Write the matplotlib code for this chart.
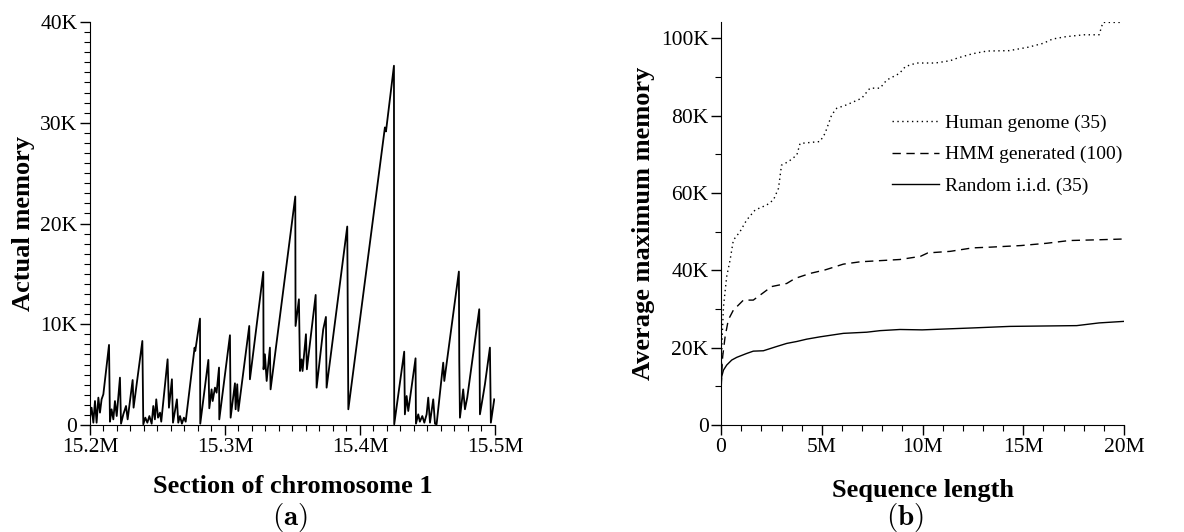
import numpy as np
import matplotlib.pyplot as plt
from matplotlib.ticker import MultipleLocator

plt.rcParams['font.family'] = ['Liberation Serif', 'DejaVu Serif']
plt.rcParams['mathtext.fontset'] = 'cm'

# (a) memory along a section of chromosome 1 (position in Mb, memory in K)
pos_mb = [15.2000, 15.2012, 15.2025, 15.2037, 15.2049, 15.2062, 15.2074, 15.2086, 15.2099,
          15.2141, 15.2148, 15.2160, 15.2173, 15.2185, 15.2198, 15.2222, 15.2230, 15.2247,
          15.2267, 15.2279, 15.2316, 15.2323, 15.2388, 15.2395, 15.2410, 15.2425, 15.2440,
          15.2457, 15.2469, 15.2481, 15.2491, 15.2504, 15.2519, 15.2528, 15.2575, 15.2585,
          15.2607, 15.2615, 15.2644, 15.2654, 15.2667, 15.2681, 15.2696, 15.2709, 15.2775,
          15.2780, 15.2815, 15.2817, 15.2877, 15.2884, 15.2901, 15.2909, 15.2926, 15.2938,
          15.2956, 15.2958, 15.3037, 15.3042, 15.3074, 15.3079, 15.3091, 15.3099, 15.3180,
          15.3185, 15.3284, 15.3286, 15.3296, 15.3309, 15.3333, 15.3338, 15.3521, 15.3523,
          15.3548, 15.3556, 15.3568, 15.3575, 15.3600, 15.3607, 15.3672, 15.3679, 15.3728,
          15.3748, 15.3753, 15.3906, 15.3914, 15.4185, 15.4193, 15.4252, 15.4254, 15.4328,
          15.4333, 15.4346, 15.4358, 15.4370, 15.4412, 15.4415, 15.4432, 15.4444, 15.4462,
          15.4477, 15.4494, 15.4506, 15.4519, 15.4543, 15.4556, 15.4568, 15.4617, 15.4625,
          15.4733, 15.4736, 15.4741, 15.4765, 15.4778, 15.4795, 15.4884, 15.4889, 15.4914,
          15.4926, 15.4963, 15.4970, 15.4995]
mem_k = [0.73, 1.72, 0.23, 2.38, 0.23, 2.72, 1.23, 2.55, 3.05,
         7.95, 0.33, 1.56, 0.56, 2.38, 0.89, 4.70, 0.13, 1.06,
         1.89, 0.56, 4.47, 1.72, 8.34, 0.07, 0.73, 0.23, 0.89,
         0.13, 1.89, 0.56, 2.55, 0.73, 1.23, 0.33, 6.52, 1.72,
         4.54, 0.23, 2.55, 0.23, 0.89, 0.13, 0.73, 0.33, 7.68,
         7.35, 10.56, 0.13, 6.46, 1.66, 3.54, 2.38, 3.71, 3.21,
         5.70, 0.56, 8.91, 0.73, 4.14, 1.56, 4.04, 1.39, 9.83,
         4.54, 15.20, 5.53, 7.02, 4.37, 7.68, 3.54, 22.68, 9.83,
         12.48, 5.36, 6.52, 5.36, 9.01, 5.53, 12.91, 3.71, 9.50,
         10.73, 3.71, 19.70, 1.56, 29.54, 29.14, 35.66, 0.07, 7.28,
         1.06, 2.88, 1.39, 2.55, 6.62, 0.13, 1.06, 0.33, 0.89,
         0.23, 1.06, 2.72, 0.23, 2.55, 0.13, 0.07, 6.19, 4.37,
         15.23, 6.36, 0.73, 3.54, 1.56, 2.72, 11.49, 1.06, 3.05,
         4.04, 7.68, 0.23, 2.55]

# (b) average maximum memory vs sequence length (length in M, memory in K)
human_len = [0.0, 0.02, 0.05, 0.12, 0.28, 0.45, 0.61, 0.94, 1.27, 1.69, 2.27, 2.6, 2.85, 3.0,
             3.34, 3.76, 3.92, 4.91, 5.16, 5.49, 5.74, 6.24, 6.98, 7.39, 7.89, 8.22, 8.85,
             9.15, 9.7, 10.63, 11.37, 11.74, 12.48, 13.2, 14.3, 15.25, 15.99, 16.45, 17.1,
             18.0, 18.76, 18.95, 19.87]
human_mem = [12.0, 15.0, 22.0, 30.6, 38.4, 42.7, 47.8, 50.0, 53.0, 55.6, 56.9, 58.2, 61.2, 67.2,
             68.1, 69.8, 72.8, 73.3, 75.4, 80.2, 81.9, 82.8, 84.5, 87.1, 87.1, 89.2, 90.9,
             92.7, 93.6, 93.6, 94.2, 94.9, 96.0, 96.7, 96.8, 97.7, 98.7, 99.8, 100.4,
             100.9, 100.9, 104.1, 104.1]
hmm_len = [0.0, 0.02, 0.08, 0.2, 0.36, 0.61, 1.11, 1.6, 1.94, 2.51, 3.26, 3.67, 4.42, 5.16,
           6.07, 6.9, 8.88, 9.89, 10.26, 11.37, 12.48, 13.4, 14.88, 16.17, 17.28, 18.76, 20.0]
hmm_mem = [10.0, 12.0, 17.7, 22.8, 27.2, 29.7, 32.3, 32.3, 33.6, 35.8, 36.6, 37.9, 39.2, 40.1,
           41.6, 42.2, 42.8, 43.6, 44.5, 44.9, 45.8, 46.0, 46.4, 47.0, 47.7, 47.9, 48.1]
iid_len = [0.0, 0.01, 0.03, 0.12, 0.28, 0.53, 0.78, 1.27, 1.6, 2.1, 2.76, 3.26, 3.76, 4.25,
           4.91, 6.07, 7.23, 7.89, 8.88, 9.98, 12.48, 14.33, 17.65, 18.76, 20.0]
iid_mem = [0.0, 10.0, 12.5, 14.2, 15.5, 16.8, 17.5, 18.5, 19.1, 19.2, 20.3, 21.1, 21.6, 22.2,
           22.8, 23.7, 24.0, 24.4, 24.7, 24.6, 25.1, 25.5, 25.7, 26.4, 26.8]

fig = plt.figure(figsize=(11.84, 5.32), dpi=100)
ax1 = fig.add_axes([0.076, 0.2011, 0.342, 0.7575])
ax2 = fig.add_axes([0.609, 0.2011, 0.3404, 0.7575])

for ax in (ax1, ax2):
    ax.spines['top'].set_visible(False)
    ax.spines['right'].set_visible(False)
    ax.tick_params(which='major', direction='out', length=7, width=1, labelsize=15.5, pad=2)
    ax.tick_params(which='minor', direction='out', length=4, width=0.8)

# panel (a)
ax1.plot(pos_mb, mem_k, color='black', lw=1.3)
ax1.set_xlim(15.2, 15.5)
ax1.set_ylim(0, 40)
ax1.set_xticks([15.2, 15.3, 15.4, 15.5])
ax1.set_xticklabels(['15.2M', '15.3M', '15.4M', '15.5M'])
ax1.set_yticks([0, 10, 20, 30, 40])
ax1.set_yticklabels(['0', '10K', '20K', '30K', '40K'])
ax1.xaxis.set_minor_locator(MultipleLocator(0.01))
ax1.yaxis.set_minor_locator(MultipleLocator(1))
ax1.set_xlabel('Section of chromosome 1', fontsize=19, fontweight='bold', labelpad=13)
ax1.set_ylabel('Actual memory', fontsize=19, fontweight='bold', labelpad=4)

# panel (b)
ax2.plot(human_len, human_mem, color='black', lw=1.0, ls=(0, (1, 2.5)), label='Human genome (35)')
ax2.plot(hmm_len, hmm_mem, color='black', lw=1.0, ls=(0, (6, 4)), label='HMM generated (100)')
ax2.plot(iid_len, iid_mem, color='black', lw=1.0, label='Random i.i.d. (35)')
ax2.set_xlim(0, 20)
ax2.set_ylim(0, 104.2)
ax2.set_xticks([0, 5, 10, 15, 20])
ax2.set_xticklabels(['0', '5M', '10M', '15M', '20M'])
ax2.set_yticks([0, 20, 40, 60, 80, 100])
ax2.set_yticklabels(['0', '20K', '40K', '60K', '80K', '100K'])
ax2.xaxis.set_minor_locator(MultipleLocator(1))
ax2.yaxis.set_minor_locator(MultipleLocator(10))
ax2.set_xlabel('Sequence length', fontsize=19, fontweight='bold', labelpad=16)
ax2.set_ylabel('Average maximum memory', fontsize=19, fontweight='bold', labelpad=4)
ax2.legend(loc='upper left', bbox_to_anchor=(0.405, 0.79), frameon=False, fontsize=14,
           handlelength=2.4, handletextpad=0.3, labelspacing=0.7, borderaxespad=0)

fig.text(0.245, 0.014, r'$\mathbf{(a)}$', fontsize=21, ha='center')
fig.text(0.764, 0.014, r'$\mathbf{(b)}$', fontsize=21, ha='center')

fig.savefig('out.png', dpi=100)
